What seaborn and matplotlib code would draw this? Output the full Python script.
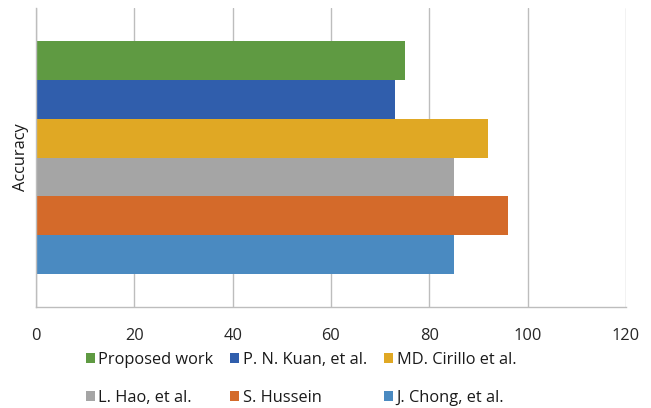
import matplotlib
matplotlib.use("Agg")
import matplotlib.pyplot as plt
import seaborn as sns
import pandas as pd

# Accuracy reported by each study
methods = ["Proposed work", "P. N. Kuan, et al.", "MD. Cirillo et al.",
           "L. Hao, et al.", "S. Hussein", "J. Chong, et al."]
accuracy = [75, 73, 92, 85, 96, 85]
metric = ["Accuracy"] * len(methods)
x_ticks = [0, 20, 40, 60, 80, 100, 120]

colors = ["#5f9a42", "#305eac", "#e0a824", "#a5a5a5", "#d46a2a", "#4a8ac1"]

df = pd.DataFrame({"metric": metric, "method": methods, "accuracy": accuracy})

sns.set_theme(style="white")
plt.rcParams["font.family"] = ["Open Sans", "DejaVu Sans"]

fig = plt.figure(figsize=(6.51, 4.08), dpi=100)
ax = fig.add_axes([36 / 651, 1 - 307 / 408, 590 / 651, 299 / 408])

sns.barplot(data=df, y="metric", x="accuracy", hue="method",
            hue_order=methods, palette=colors, orient="h",
            width=0.78, linewidth=0, saturation=1, ax=ax, legend=True)

ax.set_xlim(0, 120)
ax.set_xticks(x_ticks)
ax.set_xticklabels([str(t) for t in x_ticks], fontsize=11.8, color="#262626")
ax.tick_params(axis="x", length=0, pad=15)
ax.set_yticks([])
ax.set_xlabel("")
ax.set_ylabel("Accuracy", fontsize=11.8, color="#1a1a1a", labelpad=5)

ax.grid(axis="x", color="#bdbdbd", linewidth=1)
ax.set_axisbelow(True)
for side in ["top", "right"]:
    ax.spines[side].set_visible(False)
for side in ["left", "bottom"]:
    ax.spines[side].set_color("#bdbdbd")
    ax.spines[side].set_linewidth(1)

handles, labels = ax.get_legend_handles_labels()
ax.get_legend().remove()
order = [0, 3, 1, 4, 2, 5]
fig.legend([handles[i] for i in order], [labels[i] for i in order],
           ncol=3, loc="center", bbox_to_anchor=(301 / 651, 1 - 379 / 408),
           frameon=False, fontsize=11.8, handlelength=0.55, handleheight=0.55,
           handletextpad=0.2, columnspacing=1.05, labelspacing=1.35,
           labelcolor="#1a1a1a")

fig.savefig("out.png", dpi=100)
